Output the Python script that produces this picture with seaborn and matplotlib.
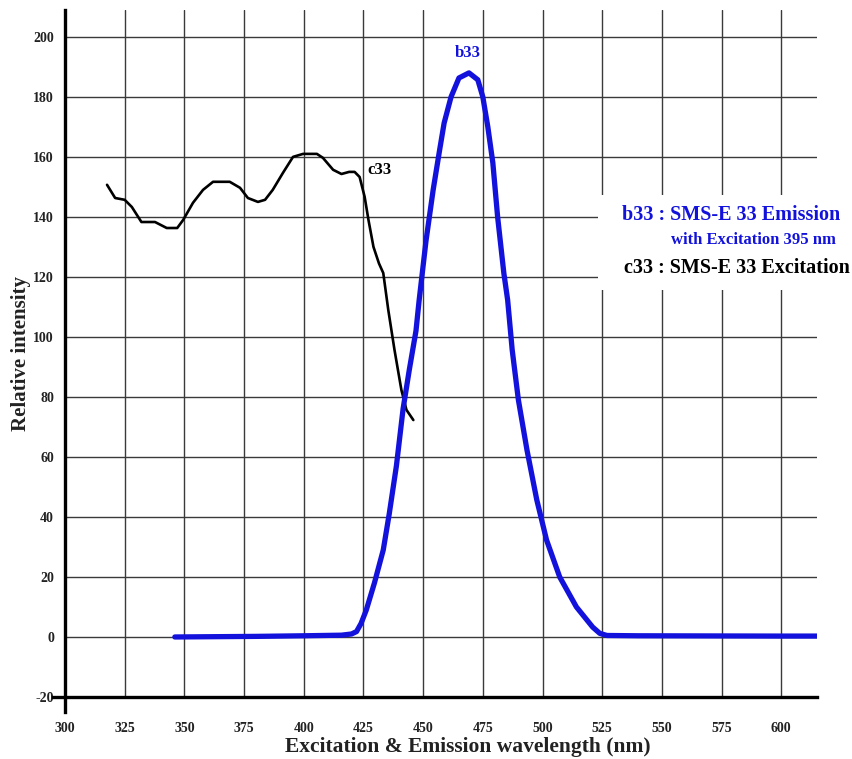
import numpy as np
import pandas as pd
import matplotlib
matplotlib.use("Agg")
import matplotlib.pyplot as plt
import matplotlib.patches as mpatches
import seaborn as sns

# Datos
exc_wl = [317.6, 321, 325, 328, 332, 337.7, 342.6, 347, 349.5, 353.6, 357.8, 362,
          369, 373.3, 376.6, 380.8, 383.8, 387, 391.3, 395.5, 399.7, 405.5, 408,
          412.3, 415.8, 419, 421.3, 423.4, 425.5, 427.1, 429.2, 431.5, 433.3,
          435.4, 438, 440.9, 443, 445.9]
exc_val = [150.7, 146.3, 145.7, 143.3, 138.3, 138.3, 136.3, 136.3, 139, 144.7, 149,
           151.7, 151.7, 149.7, 146.3, 145, 145.7, 149, 154.7, 160, 161, 161, 159.7,
           155.7, 154.3, 155, 155, 153.3, 146.7, 139, 130, 124.5, 121.3,
           109, 95.7, 82.3, 75.7, 72.3]

em_wl = [346, 380, 400, 415.8, 420, 422.1, 424, 426.2, 429.6, 433.3, 435.8, 438.8,
         441.6, 444.2, 447, 448.3, 451.2, 454.2, 456.7, 458.8, 461.7, 465, 469.2,
         472.9, 475, 477.1, 479.2, 481.2, 483.8, 485.4, 487.3, 489.9, 493.5,
         497.6, 501.7, 507.2, 514.2, 521, 524, 527, 540, 600, 615]
em_val = [0, 0.2, 0.4, 0.6, 1.0, 1.8, 4.5, 9, 18, 29, 41, 57, 76, 89, 102, 112,
          132, 149, 161.3, 171.3, 180, 186.3, 188, 185.7, 180, 170, 158, 140,
          121.3, 112.3, 95.7, 79, 62.3, 45.7, 32.3, 20, 10, 3.3, 1.2, 0.5, 0.4,
          0.3, 0.3]

x_ticks = [300, 325, 350, 375, 400, 425, 450, 475, 500, 525, 550, 575, 600]
y_ticks = [-20, 0, 20, 40, 60, 80, 100, 120, 140, 160, 180, 200]

exc = pd.DataFrame({"wl": exc_wl, "val": exc_val})
em = pd.DataFrame({"wl": em_wl, "val": em_val})

sns.set_style("white")
plt.rcParams["font.family"] = ["Liberation Serif", "DejaVu Serif"]
plt.rcParams["font.weight"] = "bold"

blue = "#1212dc"

fig = plt.figure(figsize=(8.52, 7.59), dpi=100)
ax = fig.add_axes([0.0763, 0.0817, 0.8827, 0.9053])

# rejilla
for x in x_ticks[1:]:
    ax.axvline(x, color="#3a3a3a", lw=1.0, zorder=0)
for y in y_ticks[1:]:
    ax.axhline(y, color="#3a3a3a", lw=1.0, zorder=0)

sns.lineplot(data=exc, x="wl", y="val", ax=ax, color="black", lw=1.9,
             sort=False, estimator=None, zorder=3)
sns.lineplot(data=em, x="wl", y="val", ax=ax, color=blue, lw=3.8,
             sort=False, estimator=None, zorder=4)

ax.set_xlim(300, 615)
ax.set_ylim(-20, 209)
ax.set_xticks(x_ticks)
ax.set_yticks(y_ticks)
ax.set_xticklabels([str(t) for t in x_ticks], fontsize=10, fontweight="bold",
                   color="#222222")
ax.set_yticklabels([str(t) for t in y_ticks], fontsize=10, fontweight="bold",
                   color="#222222")
ax.tick_params(axis="x", direction="in", length=6, width=2, pad=18)
ax.tick_params(axis="y", direction="inout", length=8, width=1.2, pad=4)

for s in ["top", "right"]:
    ax.spines[s].set_visible(False)
for s in ["left", "bottom"]:
    ax.spines[s].set_linewidth(2.4)
    ax.spines[s].set_color("black")
ax.spines["left"].set_bounds(-25, 209)
ax.spines["bottom"].set_bounds(295, 615)

ax.set_xlabel("Excitation & Emission wavelength (nm)", fontsize=15.5,
              fontweight="bold", color="#222222")
ax.xaxis.set_label_coords(0.535, -0.058)
ax.set_ylabel("Relative intensity", fontsize=15, fontweight="bold",
              color="#222222")
ax.yaxis.set_label_coords(-0.045, 0.5)

# etiquetas de curvas
ax.text(426.5, 155.5, "c33", fontsize=12, color="black", va="center", ha="left")
ax.text(468.5, 192, "b33", fontsize=12, color=blue, ha="center", va="bottom",
        fontweight="bold")

# leyenda a la derecha (fondo blanco que tapa la rejilla)
ax.add_patch(mpatches.Rectangle((0.709, 0.592), 0.34, 0.139,
                                transform=ax.transAxes, facecolor="white",
                                edgecolor="none", clip_on=False, zorder=5))
ax.text(1.0306, 0.7016, "b33 : SMS-E 33 Emission", transform=ax.transAxes,
        fontsize=14.5, color=blue, ha="right", va="center", fontweight="bold",
        clip_on=False, zorder=6)
ax.text(1.0253, 0.665, "with Excitation 395 nm", transform=ax.transAxes,
        fontsize=12, color=blue, ha="right", va="center", fontweight="bold",
        clip_on=False, zorder=6)
ax.text(1.0439, 0.6245, "c33 : SMS-E 33 Excitation", transform=ax.transAxes,
        fontsize=14.5, color="black", ha="right", va="center",
        fontweight="bold", clip_on=False, zorder=6)

fig.savefig("out.png", dpi=100, facecolor="white")
